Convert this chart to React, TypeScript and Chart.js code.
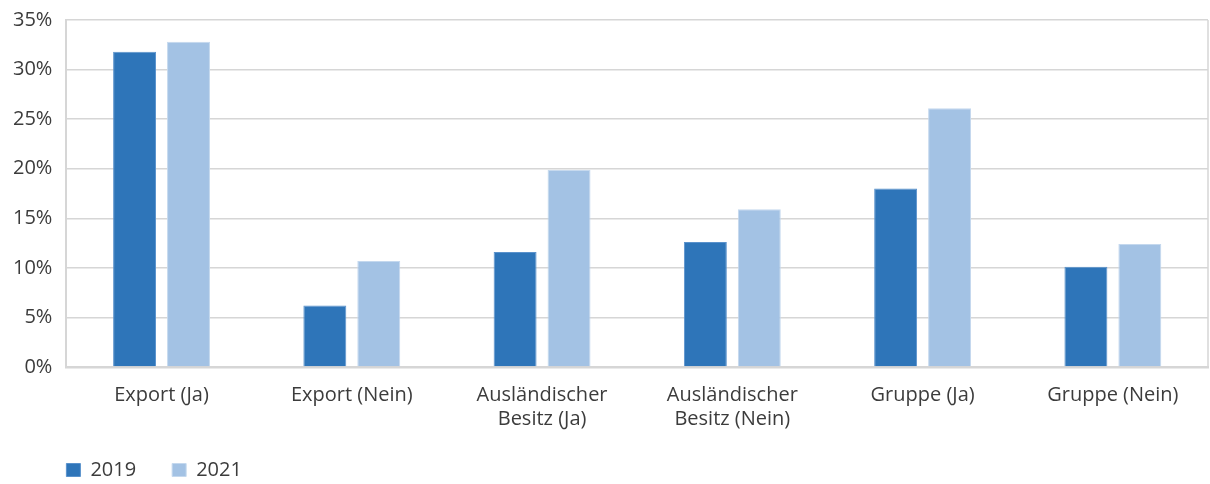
import React, { useEffect, useRef } from "react";
import { Chart, registerables } from "chart.js";

Chart.register(...registerables);

const categories: (string | string[])[] = [
  "Export (Ja)",
  "Export (Nein)",
  ["Ausländischer", "Besitz (Ja)"],
  ["Ausländischer", "Besitz (Nein)"],
  "Gruppe (Ja)",
  "Gruppe (Nein)",
];
const seriesNames = ["2019", "2021"];
const values2019 = [31.8, 6.2, 11.6, 12.6, 18.0, 10.1];
const values2021 = [32.8, 10.7, 19.9, 15.9, 26.1, 12.4];
const yTicks = [0, 5, 10, 15, 20, 25, 30, 35];

const FONT = "'Open Sans', 'Noto Sans', sans-serif";
const TEXT = "#3c3c3c";
const GRID = "#d6d6d6";

const rightBorder = {
  id: "rightBorder",
  afterDatasetsDraw(chart: any) {
    const { ctx, chartArea } = chart;
    ctx.save();
    ctx.strokeStyle = GRID;
    ctx.lineWidth = 1.5;
    ctx.beginPath();
    ctx.moveTo(chartArea.right, chartArea.top);
    ctx.lineTo(chartArea.right, chartArea.bottom);
    ctx.stroke();
    ctx.restore();
  },
};

const legendShift = {
  id: "legendShift",
  afterLayout(chart: any) {
    const lg = chart.legend;
    if (!lg) return;
    const dx = chart.chartArea.left - 36 - lg.left;
    lg.left += dx;
    lg.right += dx;
    lg.top -= 23;
    lg.bottom -= 23;
  },
};

export default function App() {
  const ref = useRef<HTMLCanvasElement>(null);
  useEffect(() => {
    if (!ref.current) return;
    const chart = new Chart(ref.current, {
      type: "bar",
      data: {
        labels: categories,
        datasets: [
          {
            label: seriesNames[0],
            data: values2019,
            backgroundColor: "#2e75b9",
            borderColor: "#5a92cc",
            borderWidth: 1,
            categoryPercentage: 0.567,
            barPercentage: 0.796,
          },
          {
            label: seriesNames[1],
            data: values2021,
            backgroundColor: "#a3c2e4",
            borderColor: "#c4d8ee",
            borderWidth: 1,
            categoryPercentage: 0.567,
            barPercentage: 0.796,
          },
        ],
      },
      options: {
        responsive: false,
        animation: false,
        layout: { padding: { top: 20, right: 2, bottom: -29, left: -1 } },
        plugins: {
          tooltip: { enabled: false },
          legend: {
            position: "bottom",
            align: "start",
            labels: {
              boxWidth: 14,
              boxHeight: 13,
              padding: 36,
              color: TEXT,
              font: { family: FONT, size: 20 },
            },
          },
        },
        scales: {
          x: {
            grid: { display: true, drawOnChartArea: false, drawTicks: false },
            border: { display: true, color: GRID, width: 2.5 },
            ticks: {
              padding: 16,
              color: TEXT,
              font: { family: FONT, size: 20, lineHeight: 1.2 },
              maxRotation: 0,
              autoSkip: false,
            },
          },
          y: {
            min: 0,
            max: 35,
            afterBuildTicks: (scale: any) => {
              scale.ticks = yTicks.map((v) => ({ value: v }));
            },
            afterFit: (scale: any) => {
              scale.paddingTop = 12;
              scale.paddingBottom = 12;
            },
            grid: { color: GRID, lineWidth: 1.5, drawTicks: false },
            border: { display: true, color: GRID, width: 2 },
            ticks: {
              padding: 14,
              color: TEXT,
              font: { family: FONT, size: 20 },
              callback: (v: any) => v + "%",
            },
          },
        },
      },
      plugins: [rightBorder, legendShift],
    });
    return () => chart.destroy();
  }, []);
  return (
    <div style={{ position: "absolute", left: 0, top: 0, width: 1210, height: 484, background: "#fff" }}>
      <canvas ref={ref} width={1210} height={484} />
    </div>
  );
}
